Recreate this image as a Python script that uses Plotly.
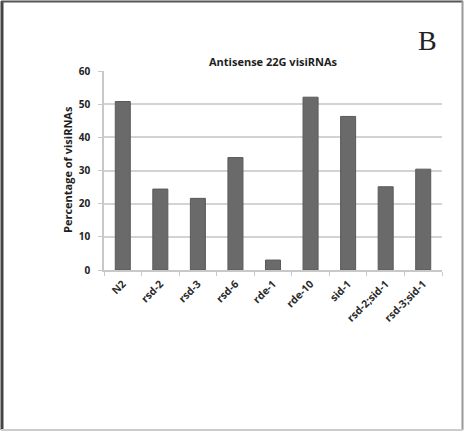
import plotly.graph_objects as go

# Strains and percentage of antisense 22G visiRNAs
strains = ["N2", "rsd-2", "rsd-3", "rsd-6", "rde-1", "rde-10", "sid-1",
           "rsd-2;sid-1", "rsd-3;sid-1"]
percent = [50.8, 24.4, 21.6, 33.9, 3.0, 52.1, 46.3, 25.1, 30.4]
y_ticks = [0, 10, 20, 30, 40, 50, 60]

W, H = 464, 431
ML, MR, MT, MB = 104, 22, 71, 161
pw, ph = W - ML - MR, H - MT - MB


def px(x):
    return (x - ML) / pw


def py(y):
    return (H - MB - y) / ph


fig = go.Figure(go.Bar(
    x=strains, y=percent,
    marker=dict(color="#6a6a6a", line=dict(color="#5a5a5a", width=1)),
    width=0.4,
))

font = "Open Sans, Liberation Sans, sans-serif"

fig.update_layout(
    width=W, height=H,
    margin=dict(l=ML, r=MR, t=MT, b=MB, pad=0),
    paper_bgcolor="white", plot_bgcolor="white",
    showlegend=False,
    font=dict(family=font, size=9, color="#222222"),
    xaxis=dict(
        type="category", tickangle=-45, tickson="boundaries",
        ticks="outside", ticklen=4, tickcolor="#c8c8c8",
        showline=True, linecolor="#c8c8c8", linewidth=1.5,
        showgrid=False, ticklabelstandoff=2,
        tickfont=dict(size=10.5, color="#2a2a2a", weight="bold"),
    ),
    yaxis=dict(
        range=[0, 60], tickvals=y_ticks, showgrid=True,
        gridcolor="#d3d3d3", gridwidth=1.5,
        showline=True, linecolor="#c8c8c8", linewidth=1.5,
        ticks="outside", ticklen=4, tickcolor="#c8c8c8",
        ticklabelstandoff=6,
        tickfont=dict(size=10, color="#222222", weight="bold"),
        zeroline=False,
    ),
    annotations=[
        dict(text="<b>Antisense 22G visiRNAs</b>", x=0.5, y=py(62),
             xref="paper", yref="paper", showarrow=False,
             xanchor="center", yanchor="middle",
             font=dict(size=11, color="#1e1e1e")),
        dict(text="<b>Percentage of visiRNAs</b>", x=px(67), y=py(170),
             xref="paper", yref="paper", showarrow=False, textangle=-90,
             xanchor="center", yanchor="middle",
             font=dict(size=11, color="#1e1e1e")),
        dict(text="B", x=px(427), y=py(40), xref="paper", yref="paper",
             showarrow=False, xanchor="center", yanchor="middle",
             font=dict(family="Liberation Serif, DejaVu Serif, serif",
                       size=28, color="#222222")),
    ],
    shapes=[
        # outer frame around the panel
        dict(type="line", xref="paper", yref="paper",
             x0=px(2), x1=px(2), y0=py(1), y1=py(430),
             line=dict(color="#444444", width=3)),
        dict(type="line", xref="paper", yref="paper",
             x0=px(1), x1=px(463), y0=py(1.5), y1=py(1.5),
             line=dict(color="#555555", width=2)),
        dict(type="line", xref="paper", yref="paper",
             x0=px(462.5), x1=px(462.5), y0=py(1), y1=py(430),
             line=dict(color="#999999", width=2)),
        dict(type="line", xref="paper", yref="paper",
             x0=px(1), x1=px(463), y0=py(430), y1=py(430),
             line=dict(color="#cccccc", width=2)),
    ],
)

fig.write_html("out.html")
